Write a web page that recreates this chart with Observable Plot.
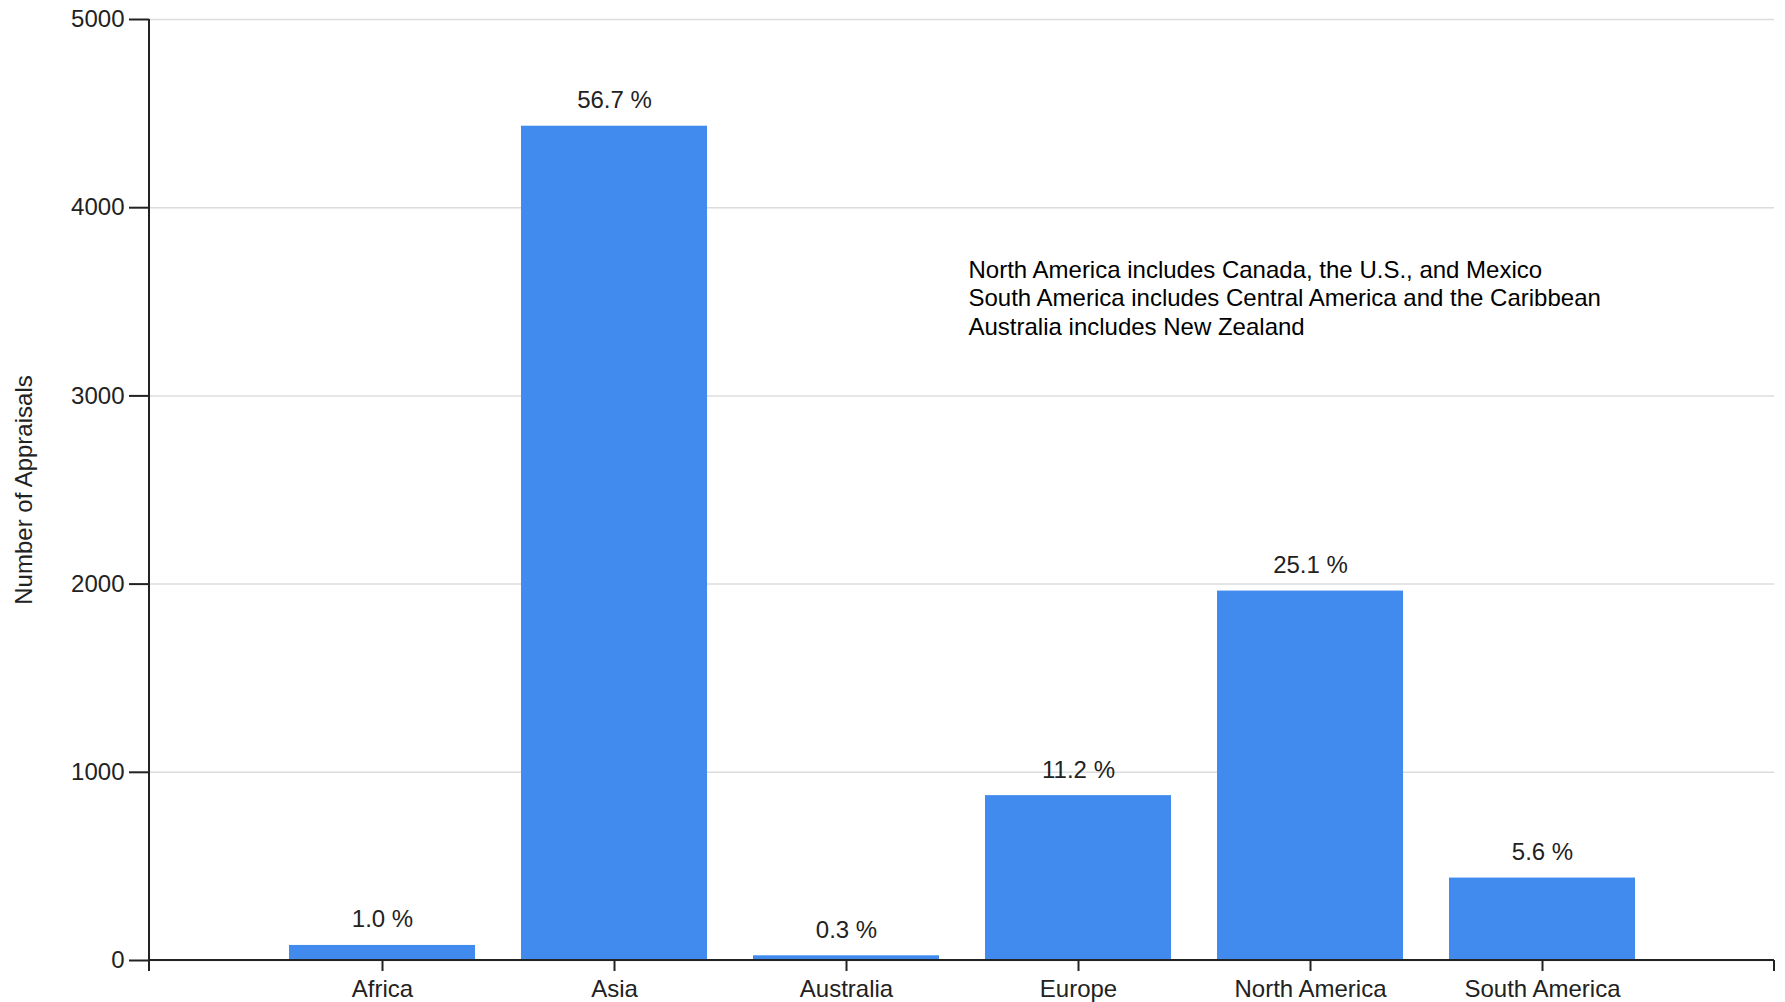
<!DOCTYPE html>
<html>
<head>
<meta charset="utf-8">
<script src="https://cdn.jsdelivr.net/npm/d3@7"></script>
<script src="https://cdn.jsdelivr.net/npm/@observablehq/plot@0.6"></script>
<style>
  html, body { margin: 0; padding: 0; background: #fff; }
  #chart svg { display: block; }
</style>
</head>
<body>
<div id="chart"></div>
<script>
const categories = ["Africa", "Asia", "Australia", "Europe", "North America", "South America"];
const appraisals = [80, 4433, 25, 876, 1963, 438];
const shareLabels = ["1.0 %", "56.7 %", "0.3 %", "11.2 %", "25.1 %", "5.6 %"];
const yTicks = [0, 1000, 2000, 3000, 4000, 5000];
const yTitle = "Number of Appraisals";
const notes = [
  "North America includes Canada, the U.S., and Mexico",
  "South America includes Central America and the Caribbean",
  "Australia includes New Zealand"
];

const data = categories.map((c, i) => ({region: c, count: appraisals[i], share: shareLabels[i]}));

const TICK = 11;
const INK = "#222";

function axisLines(index, scales, values, dims) {
  const {width, height, marginLeft, marginRight, marginTop, marginBottom} = dims;
  const x0 = marginLeft, x1 = width - marginRight, yb = height - marginBottom;
  const g = d3.create("svg:g").attr("stroke", INK).attr("stroke-width", 2).attr("fill", "none");
  g.append("line").attr("x1", x0).attr("x2", x0).attr("y1", marginTop).attr("y2", yb + TICK);
  g.append("line").attr("x1", x0).attr("x2", x1).attr("y1", yb).attr("y2", yb);
  g.append("line").attr("x1", x1).attr("x2", x1).attr("y1", yb).attr("y2", yb + TICK);
  return g.node();
}

const chart = Plot.plot({
  width: 1785,
  height: 1002,
  marginLeft: 149,
  marginRight: 11,
  marginTop: 19,
  marginBottom: 42,
  style: {fontFamily: "'Liberation Sans', Arial, sans-serif", fontSize: "24px", color: INK, background: "#fff"},
  x: {type: "band", domain: categories, paddingInner: 0.2, paddingOuter: 0.6, label: null},
  y: {domain: [0, 5000], ticks: yTicks, label: null},
  marks: [
    Plot.gridY(yTicks, {stroke: "#dcdcdc", strokeOpacity: 1, strokeWidth: 1.5}),
    Plot.barY(data, {x: "region", y: "count", fill: "#428bee"}),
    Plot.text(data, {x: "region", y: "count", text: "share", dy: -18, lineAnchor: "bottom", fontSize: 24, fill: INK}),
    Plot.axisY(yTicks, {tickSize: 20, tickPadding: 5, tickFormat: d => String(d), fontSize: 24, stroke: INK, strokeWidth: 2, fill: INK, label: null}),
    Plot.axisX({tickSize: TICK, tickPadding: 8, fontSize: 24, stroke: INK, strokeWidth: 2, fill: INK, label: null}),
    axisLines,
    Plot.text([yTitle], {frameAnchor: "left", dx: -125, rotate: -90, textAnchor: "middle", lineAnchor: "middle", fontSize: 24, fill: INK}),
    Plot.text([notes.join("\n")], {frameAnchor: "top-left", dx: 819, dy: 238, textAnchor: "start", lineAnchor: "top", lineHeight: 1.19, fontSize: 24, fill: "#000"})
  ]
});

document.getElementById("chart").appendChild(chart);
</script>
</body>
</html>
